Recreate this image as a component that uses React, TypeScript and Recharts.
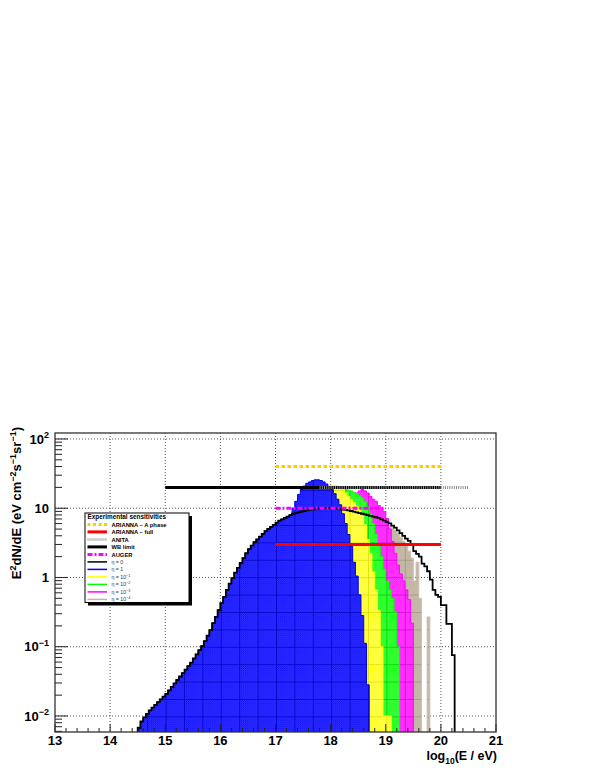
import React from "react";
import { ComposedChart, Area, Line, XAxis, YAxis, CartesianGrid } from "recharts";

const WIDTH = 595;
const HEIGHT = 770;
const PLOT = { left: 55, top: 433, right: 496, bottom: 732 };
const Y_AXIS_W = 50;
const X_AXIS_H = 30;
const Y_TICK_GAP = 6;

const X_MIN = 13;
const X_MAX = 21;
const Y_MIN = 0.00587;
const Y_MAX = 122;

const X_LABELS = [13, 14, 15, 16, 17, 18, 19, 20, 21];
const Y_LABELS = [0.01, 0.1, 1, 10, 100];
const X_GRID = [14, 15, 16, 17, 18, 19, 20];

// histogram binning (log10 E)
const BIN_START = 14.5;
const BIN_WIDTH = 0.05;

// log10(E^2 dN/dE) for bins 14.50 .. 17.25, common to every eta curve
const risingLog = [
  -2.17, -2.08, -2.02, -1.97, -1.92, -1.88, -1.84, -1.8, -1.76, -1.72,
  -1.68, -1.63, -1.58, -1.53, -1.48, -1.43, -1.38, -1.33, -1.28, -1.23,
  -1.17, -1.11, -1.05, -0.99, -0.92, -0.84, -0.76, -0.66, -0.57, -0.47,
  -0.37, -0.28, -0.18, -0.09, -0.01, 0.07, 0.14, 0.21, 0.28, 0.35,
  0.41, 0.46, 0.51, 0.55, 0.59, 0.63, 0.67, 0.7, 0.73, 0.76,
  0.79, 0.82, 0.84, 0.86, 0.88, 0.9,
];

// tails from 17.30 on, one per eta
const etaZeroTail = [
  0.92, 0.93, 0.94, 0.95, 0.96, 0.97, 0.975, 0.98, 0.985, 0.99,
  0.995, 1.0, 1.0, 1.0, 1.0, 0.995, 0.99, 0.985, 0.98, 0.975,
  0.97, 0.96, 0.95, 0.94, 0.93, 0.92, 0.91, 0.9, 0.89, 0.88,
  0.87, 0.86, 0.84, 0.82, 0.8, 0.78, 0.75, 0.72, 0.68, 0.64,
  0.6, 0.56, 0.53, 0.47, 0.38, 0.34, 0.3, 0.2, 0.16, 0.09,
  -0.03, -0.18, -0.25, -0.28, -0.4, -0.4, -0.67, -0.67, -1.12,
];
const etaOneTail = [
  1.0, 1.1, 1.2, 1.27, 1.32, 1.36, 1.38, 1.4, 1.41, 1.41,
  1.4, 1.38, 1.35, 1.31, 1.27, 1.21, 1.13, 1.05, 0.92, 0.78,
  0.62, 0.45, 0.22, 0.02, -0.25, -0.55, -0.95, -1.55,
];
const eta1e1Tail = [
  0.94, 0.98, 1.03, 1.08, 1.13, 1.17, 1.21, 1.24, 1.27, 1.29,
  1.31, 1.32, 1.33, 1.33, 1.33, 1.33, 1.32, 1.3, 1.27, 1.22,
  1.17, 1.12, 1.08, 1.03, 0.98, 0.9, 0.76, 0.55, 0.35, 0.08,
  -0.18, -0.47, -1.0, -2.0, -2.0, -2.0,
];
const eta1e2Tail = [
  0.93, 0.96, 0.99, 1.02, 1.05, 1.08, 1.11, 1.13, 1.15, 1.17,
  1.19, 1.21, 1.22, 1.23, 1.24, 1.25, 1.26, 1.27, 1.27, 1.27,
  1.26, 1.25, 1.23, 1.21, 1.18, 1.15, 1.1, 1.02, 0.92, 0.78,
  0.62, 0.45, 0.3, 0.12, -0.05, -0.18, -0.3, -0.5, -1.0,
];
const eta1e3Tail = [
  0.92, 0.94, 0.96, 0.98, 1.0, 1.02, 1.04, 1.06, 1.08, 1.1,
  1.12, 1.14, 1.16, 1.18, 1.19, 1.2, 1.21, 1.22, 1.23, 1.24,
  1.24, 1.23, 1.22, 1.22, 1.25, 1.27, 1.25, 1.22, 1.17, 1.13,
  1.1, 1.04, 1.0, 0.95, 0.85, 0.7, 0.52, 0.35, 0.18, 0.05,
  -0.05, -0.18, -0.32, -0.66,
];
const eta1e4Tail = [
  0.88, 0.89, 0.9, 0.91, 0.92, 0.93, 0.935, 0.94, 0.945, 0.95,
  0.955, 0.96, 0.96, 0.96, 0.96, 0.955, 0.95, 0.945, 0.94, 0.935,
  0.93, 0.92, 0.91, 0.9, 0.89, 0.88, 0.87, 0.86, 0.855, 0.85,
  0.84, 0.83, 0.82, 0.8, 0.78, 0.75, 0.72, 0.68, 0.64, 0.58,
  0.52, 0.46, 0.38, 0.28, -0.05, 0.22, -0.3, null, null, -0.57,
];

// experimental sensitivities (log10 E range, level)
const ariannaA = [{ x: 17, y: 40 }, { x: 20, y: 40 }];
const ariannaFull = [{ x: 17, y: 3 }, { x: 20, y: 3 }];
const anita = [{ x: 17.8, y: 20 }, { x: 20.5, y: 20 }];
const wbLimit = [{ x: 15, y: 20 }, { x: 20, y: 20 }];
const auger = [{ x: 17, y: 10 }, { x: 19, y: 10 }];

const toHist = (tail: (number | null)[]) => {
  const logs = [...risingLog, ...tail];
  const pts = [{ x: BIN_START, y: Y_MIN }];
  logs.forEach((v, i) => {
    pts.push({ x: +(BIN_START + i * BIN_WIDTH).toFixed(3), y: v === null ? Y_MIN : Math.pow(10, v) });
  });
  pts.push({ x: +(BIN_START + logs.length * BIN_WIDTH).toFixed(3), y: Y_MIN });
  return pts;
};

const histEta0 = toHist(etaZeroTail);
const histEta1 = toHist(etaOneTail);
const histEta1e1 = toHist(eta1e1Tail);
const histEta1e2 = toHist(eta1e2Tail);
const histEta1e3 = toHist(eta1e3Tail);
const histEta1e4 = toHist(eta1e4Tail);

const X_TICKS: number[] = [];
for (let i = 0; i <= (X_MAX - X_MIN) * 5; i++) X_TICKS.push(+(X_MIN + i * 0.2).toFixed(1));
const Y_TICKS: number[] = [];
for (let e = -3; e <= 2; e++) {
  for (let m = 1; m <= 9; m++) {
    const v = +(m * Math.pow(10, e)).toPrecision(3);
    if (v >= Y_MIN && v <= Y_MAX) Y_TICKS.push(v);
  }
}

const FONT = "'Liberation Sans', Arial, Helvetica, sans-serif";
const AXIS_COLOR = "#222";

const FILLS = [
  { k: "blue", base: "#0000ff", light: "#4646ff", dark: "#0000b4" },
  { k: "yellow", base: "#ffff00", light: "#ffff7a", dark: "#d6d600" },
  { k: "green", base: "#00ff00", light: "#5cff5c", dark: "#00c400" },
  { k: "magenta", base: "#ff00ff", light: "#ff5cff", dark: "#cc00cc" },
  { k: "tan", base: "#b6a894", light: "#d0c6b6", dark: "#9e9080" },
];

const supLabel = (exp: number) => {
  if (exp === 0) return [{ t: "1", sup: false }];
  if (exp === 1) return [{ t: "10", sup: false }];
  return [{ t: "10", sup: false }, { t: String(exp).replace("-", "\u2212"), sup: true }];
};

const YTick = (props: any) => {
  const { x, y, payload } = props;
  const v = payload.value as number;
  const lg = Math.log10(v);
  const major = Math.abs(lg - Math.round(lg)) < 1e-6;
  const ax = x + Y_TICK_GAP;
  const parts = supLabel(Math.round(lg));
  return (
    <g>
      <line x1={ax} x2={ax + (major ? 13 : 7)} y1={y} y2={y} stroke={AXIS_COLOR} strokeWidth={1} />
      {major && (
        <text x={x} y={y + 4.6} textAnchor="end" fontFamily={FONT} fontWeight="bold" fontSize={13} fill="#000">
          {parts.map((p, i) =>
            p.sup ? (
              <tspan key={i} dy={-5.5} fontSize={9}>{p.t}</tspan>
            ) : (
              <tspan key={i}>{p.t}</tspan>
            )
          )}
        </text>
      )}
    </g>
  );
};

const XTick = (props: any) => {
  const { x, y, payload } = props;
  const v = payload.value as number;
  const major = Math.abs(v - Math.round(v)) < 1e-6;
  return (
    <g>
      <line x1={x} x2={x} y1={y} y2={y - (major ? 8 : 4)} stroke={AXIS_COLOR} strokeWidth={1} />
      {major && (
        <text x={x} y={y + 13} textAnchor="middle" fontFamily={FONT} fontWeight="bold" fontSize={13} fill="#000">
          {v}
        </text>
      )}
    </g>
  );
};

const LEGEND_ROWS = [
  { label: "ARIANNA \u2013 A phase", stroke: "#ffcc00", w: 3, dash: "3 2.5", eta: false },
  { label: "ARIANNA \u2013 full", stroke: "#ff0000", w: 3, dash: undefined, eta: false },
  { label: "ANITA", stroke: "#9a9a9a", w: 2.5, dash: "1 1", eta: false },
  { label: "WB limit", stroke: "#000", w: 3, dash: undefined, eta: false },
  { label: "AUGER", stroke: "#ff00ff", w: 3, dash: "5 2 2 2", eta: false },
  { label: "0", stroke: "#000", w: 1.5, dash: undefined, eta: true },
  { label: "1", stroke: "#0000ff", w: 1.5, dash: undefined, eta: true },
  { label: "10|\u22121", stroke: "#ffff00", w: 1.5, dash: undefined, eta: true },
  { label: "10|\u22122", stroke: "#00ff00", w: 1.5, dash: undefined, eta: true },
  { label: "10|\u22123", stroke: "#ff00ff", w: 1.5, dash: undefined, eta: true },
  { label: "10|\u22124", stroke: "#c0b4a4", w: 1.5, dash: undefined, eta: true },
];

const Legend = () => {
  const lx = 85;
  const ly = 513;
  const lw = 104;
  const lh = 89.5;
  return (
    <g>
      <rect x={lx + 3} y={ly + 3} width={lw} height={lh} fill="#000" />
      <rect x={lx} y={ly} width={lw} height={lh} fill="#fff" stroke="#000" strokeWidth={1} />
      <text x={lx + 2.5} y={ly + 5.8} fontFamily={FONT} fontWeight="bold" fontSize={6.4} fill="#000">
        Experimental sensitivities
      </text>
      {LEGEND_ROWS.map((r, i) => {
        const cy = 524.4 + i * 7.5;
        const [base, sup] = r.label.split("|");
        return (
          <g key={i}>
            <line x1={lx + 2.5} x2={lx + 22} y1={cy} y2={cy} stroke={r.stroke} strokeWidth={r.w} strokeDasharray={r.dash} />
            {r.eta ? (
              <text x={lx + 26.5} y={cy + 1.9} fontFamily={FONT} fontSize={5.2} fill="#333">
                <tspan>{"\u03b7 = " + base}</tspan>
                {sup && <tspan dy={-2} fontSize={3.8}>{sup}</tspan>}
              </text>
            ) : (
              <text x={lx + 26.5} y={cy + 2.1} fontFamily={FONT} fontWeight="bold" fontSize={5.8} fill="#000">
                {r.label}
              </text>
            )}
          </g>
        );
      })}
    </g>
  );
};

const Patterns = () => (
  <svg width={0} height={0} style={{ position: "absolute" }}>
    <defs>
      {FILLS.map((f) => (
        <React.Fragment key={f.k}>
          <pattern id={`chk-${f.k}`} width={2} height={2} patternUnits="userSpaceOnUse">
            <rect width={2} height={2} fill={f.light} />
            <rect width={1} height={1} fill={f.base} />
            <rect x={1} y={1} width={1} height={1} fill={f.base} />
          </pattern>
          <pattern id={`fill-${f.k}`} x={0} y={3} width={18.4} height={17.4} patternUnits="userSpaceOnUse">
            <rect width={18.4} height={17.4} fill={`url(#chk-${f.k})`} />
            <path d="M0 0.5H18.4M0.5 0V17.4" stroke={f.dark} strokeWidth={1} strokeOpacity={0.7} />
          </pattern>
        </React.Fragment>
      ))}
    </defs>
  </svg>
);

export default function App() {
  return (
    <div style={{ position: "absolute", left: 0, top: 0, width: WIDTH, height: HEIGHT, background: "#fff" }}>
      <Patterns />
      <ComposedChart
        width={WIDTH}
        height={HEIGHT}
        margin={{
          top: PLOT.top,
          right: WIDTH - PLOT.right,
          bottom: HEIGHT - PLOT.bottom - X_AXIS_H,
          left: PLOT.left - Y_AXIS_W,
        }}
      >
        <CartesianGrid
          stroke="#555"
          strokeDasharray="1 2"
          horizontalValues={Y_LABELS}
          verticalValues={X_GRID}
        />
        <XAxis
          type="number"
          dataKey="x"
          domain={[X_MIN, X_MAX]}
          allowDataOverflow
          ticks={X_TICKS}
          interval={0}
          tick={(p: any) => <XTick {...p} />}
          tickLine={false}
          axisLine={false}
          tickSize={0}
          tickMargin={0}
          height={X_AXIS_H}
        />
        <YAxis
          type="number"
          scale="log"
          domain={[Y_MIN, Y_MAX]}
          allowDataOverflow
          ticks={Y_TICKS}
          interval={0}
          tick={(p: any) => <YTick {...p} />}
          tickLine={false}
          axisLine={false}
          tickSize={0}
          tickMargin={Y_TICK_GAP}
          width={Y_AXIS_W}
        />
        <Area data={histEta1e4} dataKey="y" type="stepAfter" baseValue={Y_MIN} fill="url(#fill-tan)" fillOpacity={1} stroke="#cbc0b2" strokeWidth={1} dot={false} activeDot={false} isAnimationActive={false} />
        <Area data={histEta1e3} dataKey="y" type="stepAfter" baseValue={Y_MIN} fill="url(#fill-magenta)" fillOpacity={1} stroke="#ff00ff" strokeWidth={1} dot={false} activeDot={false} isAnimationActive={false} />
        <Area data={histEta1e2} dataKey="y" type="stepAfter" baseValue={Y_MIN} fill="url(#fill-green)" fillOpacity={1} stroke="#00ff00" strokeWidth={1} dot={false} activeDot={false} isAnimationActive={false} />
        <Area data={histEta1e1} dataKey="y" type="stepAfter" baseValue={Y_MIN} fill="url(#fill-yellow)" fillOpacity={1} stroke="#ffff00" strokeWidth={1} dot={false} activeDot={false} isAnimationActive={false} />
        <Area data={histEta1} dataKey="y" type="stepAfter" baseValue={Y_MIN} fill="url(#fill-blue)" fillOpacity={1} stroke="#0000e0" strokeWidth={1} dot={false} activeDot={false} isAnimationActive={false} />
        <Line data={histEta0} dataKey="y" type="stepAfter" stroke="#000" strokeWidth={1.8} dot={false} activeDot={false} isAnimationActive={false} />
        <Line data={ariannaA} dataKey="y" stroke="#ffcc00" strokeWidth={3} strokeDasharray="3.5 2.5" dot={false} activeDot={false} isAnimationActive={false} />
        <Line data={wbLimit} dataKey="y" stroke="#000" strokeWidth={3} dot={false} activeDot={false} isAnimationActive={false} />
        <Line data={anita} dataKey="y" stroke="#8c8c8c" strokeWidth={3} strokeDasharray="1 1.2" dot={false} activeDot={false} isAnimationActive={false} />
        <Line data={auger} dataKey="y" stroke="#ff00ff" strokeWidth={3} strokeDasharray="5 2 2 2" dot={false} activeDot={false} isAnimationActive={false} />
        <Line data={ariannaFull} dataKey="y" stroke="#ff0000" strokeWidth={3} dot={false} activeDot={false} isAnimationActive={false} />
      </ComposedChart>
      <svg
        width={WIDTH}
        height={HEIGHT}
        style={{ position: "absolute", left: 0, top: 0, pointerEvents: "none" }}
      >
        <rect
          x={PLOT.left}
          y={PLOT.top}
          width={PLOT.right - PLOT.left}
          height={PLOT.bottom - PLOT.top}
          fill="none"
          stroke="#333"
          strokeWidth={1.3}
        />
        <Legend />
        <text x={PLOT.right + 1} y={760} textAnchor="end" fontFamily={FONT} fontWeight="bold" fontSize={12.5} fill="#000">
          <tspan>log</tspan>
          <tspan dy={4} fontSize={8.5}>10</tspan>
          <tspan dy={-4}>(E / eV)</tspan>
        </text>
        <text
          transform={`translate(21, ${PLOT.top - 6}) rotate(-90)`}
          textAnchor="end"
          fontFamily={FONT}
          fontWeight="bold"
          fontSize={13}
          fill="#000"
        >
          <tspan>E</tspan>
          <tspan dy={-5.5} fontSize={9}>2</tspan>
          <tspan dy={5.5}>dN/dE (eV cm</tspan>
          <tspan dy={-5.5} fontSize={9}>{"\u22122"}</tspan>
          <tspan dy={5.5}>s</tspan>
          <tspan dy={-5.5} fontSize={9}>{"\u22121"}</tspan>
          <tspan dy={5.5}>sr</tspan>
          <tspan dy={-5.5} fontSize={9}>{"\u22121"}</tspan>
          <tspan dy={5.5}>)</tspan>
        </text>
      </svg>
    </div>
  );
}
